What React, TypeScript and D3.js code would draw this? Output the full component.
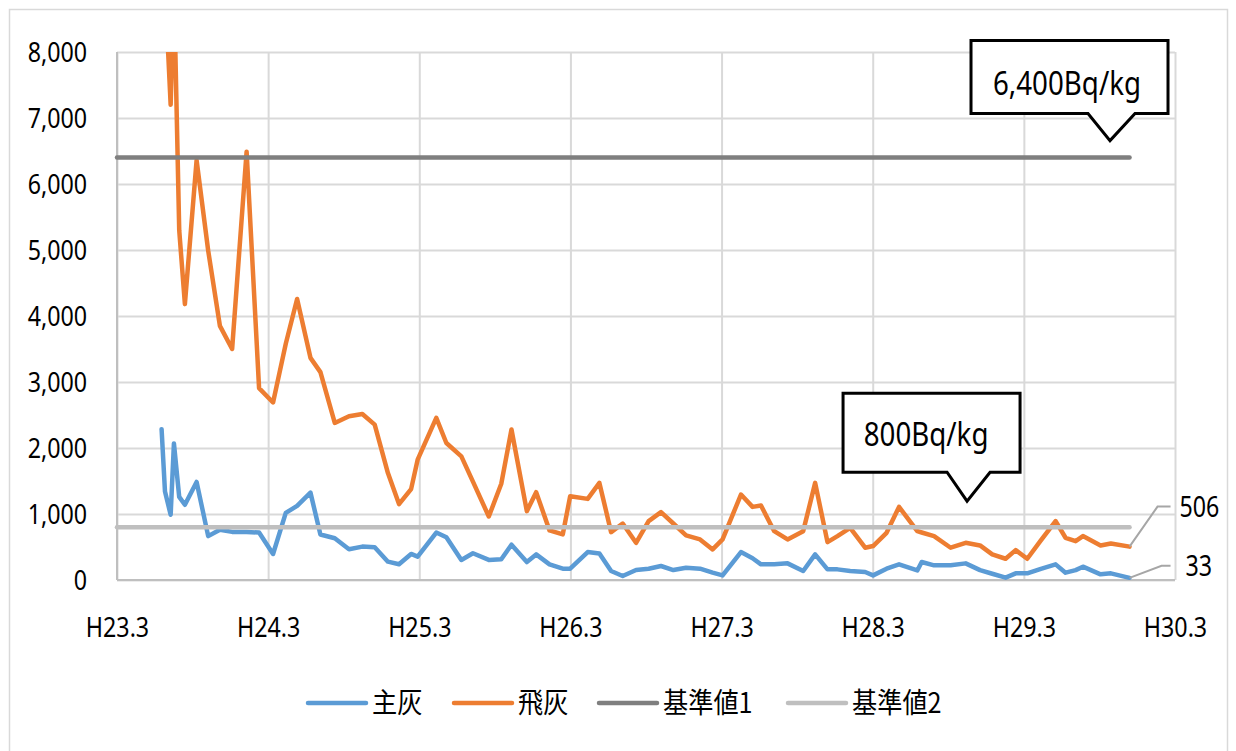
import React, { useEffect, useRef } from "react";
import * as d3 from "d3";

// months counted from H23.3 (March 2011)
const months = [
  3.54, 3.81, 4.26, 4.52, 4.94, 5.39, 6.32, 7.24, 8.17, 9.14, 10.29, 11.28, 12.39, 13.4, 14.3, 15.36,
  16.15, 17.29, 18.42, 19.48, 20.46, 21.51, 22.39, 23.35, 23.87, 25.35, 26.15, 27.34, 28.26, 29.52,
  30.51, 31.32, 32.54, 33.28, 34.34, 35.39, 35.98, 37.37, 38.3, 39.23, 40.15, 41.21, 42.21, 43.19,
  44.17, 45.18, 46.29, 47.29, 48.08, 49.54, 50.46, 51.13, 52.18, 53.24, 54.48, 55.43, 56.41, 57.2,
  58.21, 59.4, 60.03, 61.1, 62.09, 63.54, 63.89, 64.87, 66.19, 67.38, 68.52, 69.49, 70.55, 71.35,
  72.27, 73.35, 74.52, 75.31, 76.11, 76.69, 78.09, 78.91, 80.39,
];

// 主灰
const shuhai = [
  2285, 1340, 989, 2069, 1259, 1140, 1486, 665, 762, 729, 729, 719, 394, 1016, 1124, 1324,
  690, 633, 466, 506, 496, 278, 238, 395, 354, 719, 648, 304, 405, 304,
  314, 535, 272, 388, 237, 171, 171, 423, 403, 136, 60, 151, 171, 212,
  151, 186, 171, 111, 70, 423, 330, 237, 237, 252, 136, 388, 161, 161,
  136, 121, 70, 171, 237, 145, 272, 222, 222, 252, 150, 95, 35, 101,
  101, 170, 237, 111, 150, 202, 86, 101, 33,
];

// 飛灰
const hihai = [
  11000, 9000, 7200, 9000, 5300, 4180, 6360, 4990, 3850, 3500, 6490, 2907, 2690, 3580, 4257, 3366,
  3150, 2380, 2481, 2516, 2354, 1620, 1150, 1377, 1823, 2456, 2076, 1873, 1490, 962,
  1458, 2280, 1043, 1330, 751, 690, 1270, 1229, 1471, 725, 856, 564, 892, 1028,
  856, 675, 615, 463, 615, 1295, 1108, 1128, 740, 615, 740, 1471, 574, 665,
  791, 489, 514, 715, 1108, 740, 720, 665, 489, 564, 524, 388, 322, 453,
  322, 600, 892, 640, 589, 665, 524, 554, 506,
];

const standard1 = 6400; // 基準値1
const standard2 = 800; // 基準値2
const seriesNames = ["主灰", "飛灰", "基準値1", "基準値2"];
const seriesColors = ["#5B9BD5", "#ED7D31", "#7F7F7F", "#BFBFBF"];
const xTickLabels = ["H23.3", "H24.3", "H25.3", "H26.3", "H27.3", "H28.3", "H29.3", "H30.3"];
const yTicks = [0, 1000, 2000, 3000, 4000, 5000, 6000, 7000, 8000];
const calloutTexts = ["6,400Bq/kg", "800Bq/kg"];

const FONT = "'Noto Sans', 'Open Sans', sans-serif";
const CJK = "'Noto Sans CJK JP', 'Noto Sans', sans-serif";

export default function App() {
  const ref = useRef<SVGSVGElement | null>(null);

  useEffect(() => {
    const svg = d3.select(ref.current);
    svg.selectAll("*").remove();
    const width = 1236;
    const height = 751;
    const margin = { top: 52, right: 61, bottom: 171, left: 117 };
    const innerBottom = height - margin.bottom;
    const innerRight = width - margin.right;

    const x = d3.scaleLinear().domain([0, 84]).range([margin.left, innerRight]);
    const y = d3.scaleLinear().domain([0, 8000]).range([innerBottom, margin.top]);

    // outer frame
    svg
      .append("rect")
      .attr("x", 9.5)
      .attr("y", 9.5)
      .attr("width", 1218)
      .attr("height", 760)
      .attr("fill", "white")
      .attr("stroke", "#d9d9d9")
      .attr("stroke-width", 1.5);

    // y axis + horizontal gridlines
    const yAxis = svg
      .append("g")
      .attr("transform", `translate(${margin.left},0)`)
      .call(
        d3
          .axisLeft(y)
          .tickValues(yTicks)
          .tickSize(-(innerRight - margin.left))
          .tickFormat(d3.format(","))
      );
    yAxis.select(".domain").remove();
    yAxis.selectAll(".tick line").attr("stroke", "#d9d9d9").attr("stroke-width", 2);
    yAxis
      .selectAll(".tick text")
      .attr("x", -36)
      .attr("dy", "0.35em")
      .attr("transform", "scale(0.83,1)")
      .attr("font-family", FONT)
      .attr("font-size", 28)
      .attr("fill", "#000");

    // x axis + vertical gridlines
    const xAxis = svg
      .append("g")
      .attr("transform", `translate(0,${innerBottom})`)
      .call(
        d3
          .axisBottom(x)
          .tickValues(d3.range(0, 85, 12))
          .tickSize(-(innerBottom - margin.top))
          .tickFormat((_, i) => xTickLabels[i])
      );
    xAxis.select(".domain").remove();
    xAxis.selectAll(".tick line").attr("stroke", "#d9d9d9").attr("stroke-width", 2);
    xAxis
      .selectAll(".tick text")
      .attr("y", 57)
      .attr("dy", 0)
      .attr("transform", "scale(0.83,1)")
      .attr("font-family", FONT)
      .attr("font-size", 28)
      .attr("fill", "#000");

    // axis lines
    svg
      .append("line")
      .attr("x1", margin.left)
      .attr("x2", margin.left)
      .attr("y1", margin.top)
      .attr("y2", innerBottom)
      .attr("stroke", "#bfbfbf")
      .attr("stroke-width", 2);
    svg
      .append("line")
      .attr("x1", margin.left)
      .attr("x2", innerRight)
      .attr("y1", innerBottom)
      .attr("y2", innerBottom)
      .attr("stroke", "#bfbfbf")
      .attr("stroke-width", 2);

    svg
      .append("clipPath")
      .attr("id", "plot-clip")
      .append("rect")
      .attr("x", margin.left)
      .attr("y", margin.top)
      .attr("width", innerRight - margin.left)
      .attr("height", innerBottom - margin.top + 4);

    const line = d3
      .line<number>()
      .x((_, i) => x(months[i]))
      .y((d) => y(d));

    const plot = svg.append("g").attr("clip-path", "url(#plot-clip)");
    [shuhai, hihai].forEach((values, k) => {
      plot
        .append("path")
        .datum(values)
        .attr("fill", "none")
        .attr("stroke", seriesColors[k])
        .attr("stroke-width", 4.5)
        .attr("stroke-linejoin", "round")
        .attr("stroke-linecap", "round")
        .attr("d", line);
    });

    // standard lines
    const lastMonth = months[months.length - 1];
    [standard1, standard2].forEach((v, k) => {
      svg
        .append("line")
        .attr("x1", x(0))
        .attr("x2", x(lastMonth))
        .attr("y1", y(v))
        .attr("y2", y(v))
        .attr("stroke", seriesColors[k + 2])
        .attr("stroke-width", 4.5)
        .attr("stroke-linecap", "round");
    });

    // data labels for the last points
    const lastLabels = [
      { v: hihai[hihai.length - 1], dx: 28, dy: -40, tx: 50 },
      { v: shuhai[shuhai.length - 1], dx: 32, dy: -12, tx: 56 },
    ];
    lastLabels.forEach((l) => {
      const px = x(lastMonth);
      const py = y(l.v);
      svg
        .append("polyline")
        .attr("points", `${px},${py} ${px + l.dx},${py + l.dy} ${px + 41},${py + l.dy}`)
        .attr("fill", "none")
        .attr("stroke", "#a6a6a6")
        .attr("stroke-width", 2);
      svg
        .append("text")
        .attr("transform", `translate(${px + l.tx},${py + l.dy}) scale(0.8,1)`)
        .attr("dy", "0.35em")
        .attr("font-family", FONT)
        .attr("font-size", 29)
        .attr("fill", "#000")
        .text(String(l.v));
    });

    // callouts
    const callouts = [
      { text: calloutTexts[0], month: 78.84, v: standard1, lift: 17, l: 139, r: 58, t: 100, b: 27, bl: 22, br: 25, tx: -43, ty: -46 },
      { text: calloutTexts[1], month: 67.49, v: standard2, lift: 26, l: 124, r: 53, t: 108, b: 29, bl: 20, br: 23, tx: -41, ty: -55 },
    ];
    callouts.forEach((c) => {
      const tx = x(c.month);
      const ty = y(c.v) - c.lift;
      const pts = [
        [tx - c.l, ty - c.t],
        [tx + c.r, ty - c.t],
        [tx + c.r, ty - c.b],
        [tx + c.br, ty - c.b],
        [tx, ty],
        [tx - c.bl, ty - c.b],
        [tx - c.l, ty - c.b],
      ];
      svg
        .append("polygon")
        .attr("points", pts.map((p) => p.join(",")).join(" "))
        .attr("fill", "white")
        .attr("stroke", "#000")
        .attr("stroke-width", 3);
      svg
        .append("text")
        .attr("transform", `translate(${tx + c.tx},${ty + c.ty}) scale(0.84,1)`)
        .attr("text-anchor", "middle")
        .attr("font-family", FONT)
        .attr("font-size", 33)
        .attr("fill", "#000")
        .text(c.text);
    });

    // legend
    const legendX = [308, 454, 599, 788];
    const legendY = 703;
    seriesNames.forEach((name, k) => {
      const g = svg.append("g").attr("transform", `translate(${legendX[k]},${legendY})`);
      g.append("line")
        .attr("x1", 0)
        .attr("x2", 58)
        .attr("stroke", seriesColors[k])
        .attr("stroke-width", 4.5)
        .attr("stroke-linecap", "round");
      g.append("text")
        .attr("transform", "translate(64,0) scale(0.9,1)")
        .attr("dy", "0.36em")
        .attr("font-family", CJK)
        .attr("font-size", 28)
        .attr("fill", "#000")
        .text(name);
    });
  }, []);

  return (
    <div style={{ position: "absolute", left: 0, top: 0 }}>
      <svg ref={ref} width={1236} height={751} style={{ display: "block" }} />
    </div>
  );
}
